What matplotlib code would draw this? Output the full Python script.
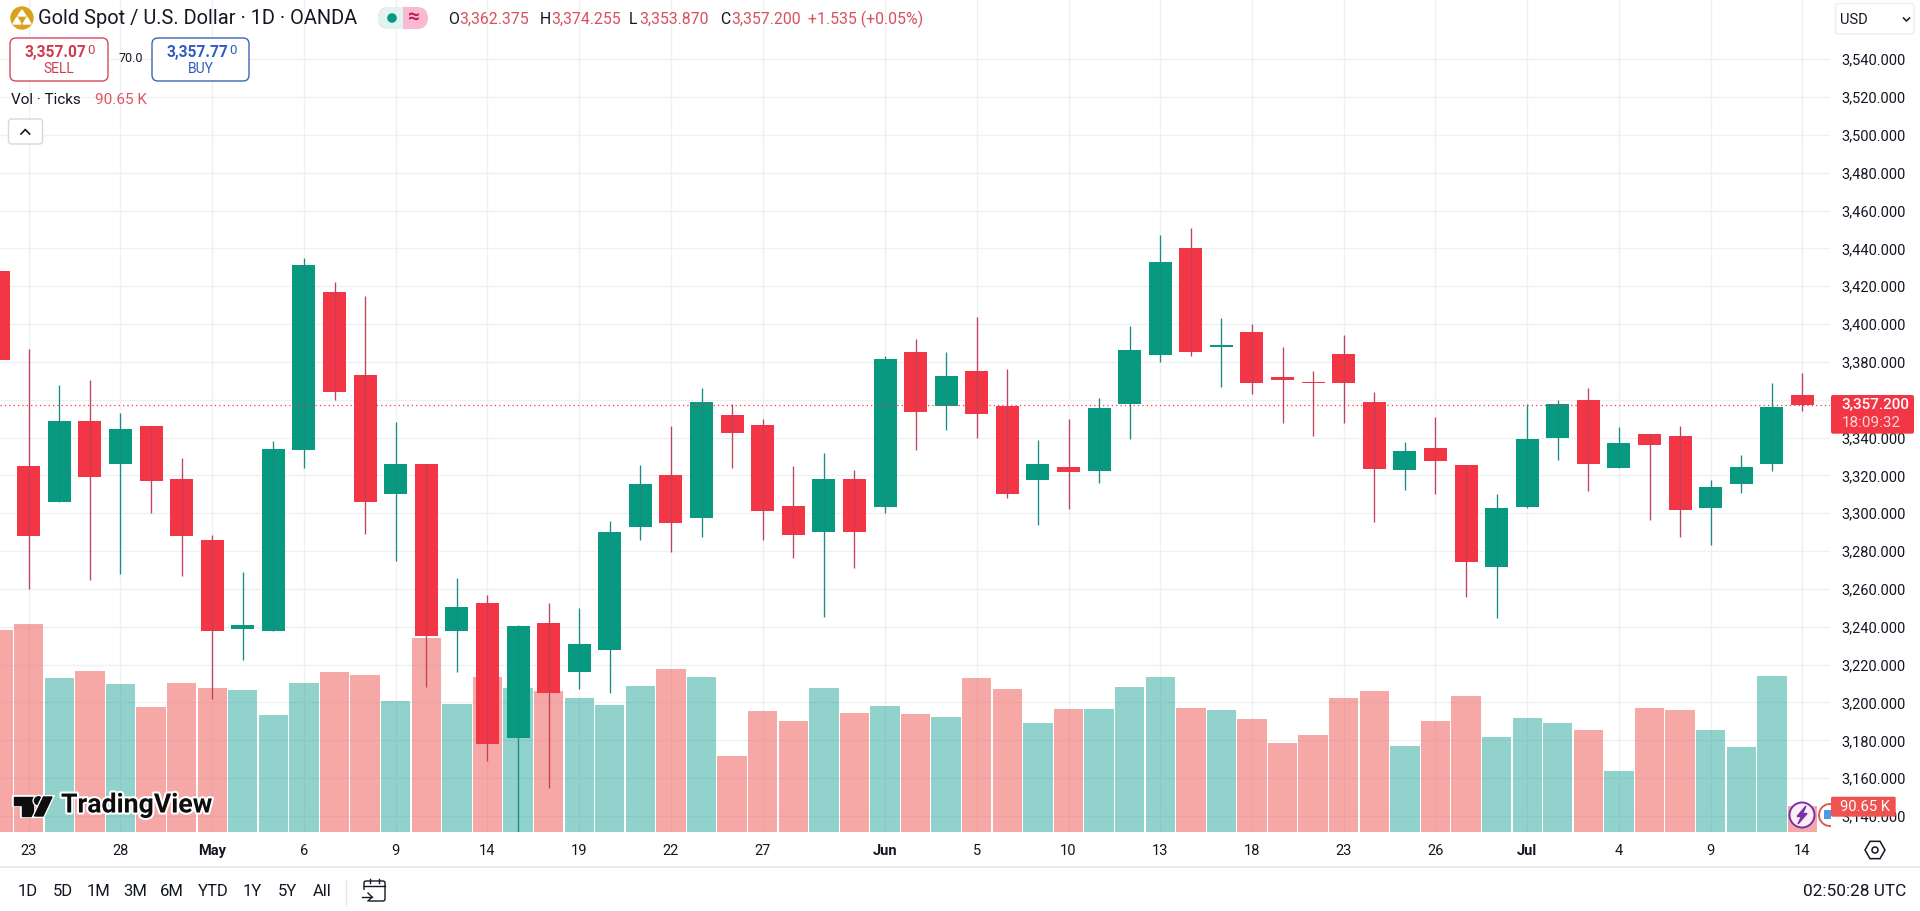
import numpy as np
import matplotlib
matplotlib.use('Agg')
import matplotlib.pyplot as plt
import matplotlib.patheffects as pe
from matplotlib.patches import Circle, FancyBboxPatch, Polygon, Rectangle, RegularPolygon

plt.rcParams['font.family'] = ['Roboto', 'DejaVu Sans']

# daily candles, first entry is the cut off bar left of Apr 23
opens = [3428, 3325, 3306, 3349, 3326, 3346, 3318, 3286, 3239, 3238, 3333.5, 3417, 3373, 3310, 3326, 3238,
         3252.5, 3181, 3242, 3216, 3228, 3293, 3320, 3297.7, 3352, 3346.5, 3304, 3290, 3318, 3303.4, 3385,
         3356.7, 3375, 3356.5, 3317.7, 3324.4, 3322.5, 3357.5, 3383.5, 3440, 3388, 3396, 3371.8, 3369.6, 3384,
         3358.6, 3323, 3334.4, 3325.4, 3271.7, 3303.4, 3339.9, 3359.8, 3324, 3341.8, 3340.7, 3302.9, 3315.6,
         3326, 3362.375]
highs = [3428, 3387, 3368, 3370.5, 3353, 3346, 3329, 3288.6, 3269, 3338, 3435, 3422, 3415, 3348, 3326, 3266,
         3257, 3241, 3252.5, 3250, 3296, 3325.5, 3346, 3366, 3357.5, 3350, 3325, 3331.7, 3323, 3383, 3392,
         3385, 3404, 3376, 3338.6, 3349.6, 3361, 3399, 3447, 3451, 3403, 3400, 3388, 3375, 3394,
         3364, 3337.6, 3350.8, 3325.4, 3310, 3358, 3360, 3366, 3345.5, 3342, 3346, 3317.5, 3330.7,
         3369, 3374.255]
lows = [3381, 3260, 3306, 3265, 3268, 3300, 3267, 3202, 3222.5, 3238, 3324, 3360, 3289, 3275, 3208, 3216,
        3169, 3120, 3155, 3207, 3205, 3286, 3279.5, 3287.6, 3324, 3286, 3276.6, 3245, 3271, 3300, 3333.5,
        3344, 3340, 3308, 3294, 3302.5, 3316, 3339, 3380, 3383, 3366.7, 3363, 3347.7, 3340.7, 3347.7,
        3295.6, 3312.4, 3310.3, 3256, 3244.8, 3303, 3328, 3312, 3324, 3296.5, 3287.6, 3283, 3310.8,
        3322.4, 3353.87]
closes = [3381, 3288, 3349, 3319, 3344.4, 3317, 3288, 3238, 3241, 3334, 3431, 3364, 3306, 3326, 3235, 3250.4,
          3178, 3240.4, 3205, 3231, 3290, 3315.4, 3295, 3358.6, 3342.5, 3301, 3288.5, 3318, 3290, 3381.8, 3353.5,
          3372.8, 3352.5, 3310, 3326, 3322, 3355.4, 3386.5, 3433, 3385, 3388.9, 3369, 3370.4, 3368.8, 3368.8,
          3323.5, 3332.8, 3327.7, 3274, 3303, 3339, 3357.6, 3326, 3337, 3336, 3301.8, 3313.8, 3324.4,
          3356, 3357.2]
# tick volume in thousands
volumes = [711, 733, 542, 567, 521, 440, 524, 507, 500, 412, 524, 563, 553, 461, 684, 450,
           546, 507, 496, 471, 447, 514, 574, 546, 267, 426, 390, 507, 419, 443, 415,
           405, 542, 504, 383, 431, 431, 510, 546, 436, 429, 397, 313, 341, 472,
           496, 302, 390, 479, 334, 401, 383, 359, 214, 436, 429, 359, 299,
           549, 90.65]

date_ticks = [0, 3, 6, 9, 12, 15, 18, 21, 24, 28, 31, 34, 37, 40, 43, 46, 49, 52, 55, 58]
date_labels = ['23', '28', 'May', '6', '9', '14', '19', '22', '27', 'Jun', '5', '10', '13', '18', '23', '26',
               'Jul', '4', '9', '14']
price_ticks = list(range(3140, 3541, 20))

RED = '#f23645'
GREEN = '#089981'
TEXT = '#131722'
x = np.arange(-1, len(opens) - 1)
opens, closes = np.array(opens), np.array(closes)
up = closes >= opens

fig = plt.figure(figsize=(19.2, 9.11), dpi=100)
pos = [0, (911 - 831.7) / 911, 1830 / 1920, 831.7 / 911]

# three layers: scales and grid, volume, candles
ax = fig.add_axes(pos, zorder=1)
ax_vol = fig.add_axes(pos, zorder=2, sharex=ax)
ax_c = fig.add_axes(pos, zorder=3, sharex=ax, sharey=ax)

ax_vol.bar(x, volumes, width=0.96, color=np.where(up, '#26a69a', '#ef5350'), alpha=0.5, linewidth=0)
ax_vol.set_ylim(0, 2933)
ax_vol.axis('off')

ax_c.vlines(x, lows, highs, colors=np.where(up, '#158d84', '#c2405a'), linewidth=0.95)
ax_c.bar(x, closes - opens, bottom=opens, width=0.752, color=np.where(up, GREEN, RED), linewidth=0)
ax_c.axhline(closes[-1], color=RED, linewidth=0.9, linestyle=(0, (1, 2.5)))
ax_c.axis('off')

ax.set_xlim(-0.9385, 58.9)
ax.set_ylim(3131.7, 3571.3)
ax.set_xticks(date_ticks)
ax.set_xticklabels(date_labels, fontsize=10.5, color=TEXT)
for lab in ax.get_xticklabels():
    if lab.get_text() in ('May', 'Jun', 'Jul'):
        lab.set_fontweight('bold')
ax.yaxis.tick_right()
ax.set_yticks(price_ticks)
ax.set_yticklabels([f'{p:,.3f}' for p in price_ticks], fontsize=10.5, color=TEXT)
ax.tick_params(axis='x', length=0, pad=9)
ax.tick_params(axis='y', length=0, pad=8)
ax.grid(True, color='#eef0f3', linewidth=1)
ax.set_axisbelow(True)
for s in ax.spines.values():
    s.set_visible(False)

# everything around the chart, in pixel coordinates
ov = fig.add_axes([0, 0, 1, 1], zorder=5)
ov.set_xlim(0, 1920)
ov.set_ylim(911, 0)
ov.axis('off')


def label(px, py, s, color=TEXT, size=10.5, ha='left', **kw):
    ov.text(px, py, s, color=color, fontsize=size, ha=ha, va='center', **kw)


# header
ov.add_patch(Circle((22, 18), 11, color='#d9a21b'))
ov.add_patch(Polygon([(22, 10), (26, 16), (18, 16)], color='white'))
ov.add_patch(Polygon([(17, 17), (21, 24), (13, 24)], color='white'))
ov.add_patch(Polygon([(27, 17), (31, 24), (23, 24)], color='white'))
label(38.5, 19, 'Gold Spot / U.S. Dollar · 1D · OANDA', size=14.4)

ov.add_patch(FancyBboxPatch((378, 7), 50, 22, boxstyle='round,pad=0,rounding_size=11', color='#f9b9d0', linewidth=0))
ov.add_patch(Rectangle((389, 7), 14, 22, color='#e2f4f0', linewidth=0))
ov.add_patch(Circle((389, 18), 11, color='#e2f4f0', linewidth=0))
ov.add_patch(Circle((392, 18), 4.8, color=GREEN, linewidth=0))
label(414, 17.5, '≈', color='#c2185b', size=15, ha='center', fontweight='bold')

HDR = '#d8505c'
label(448, 19, 'O', size=11.4)
label(459, 19, '3,362.375', color=HDR, size=11.4)
label(540, 19, 'H', size=11.4)
label(551, 19, '3,374.255', color=HDR, size=11.4)
label(629, 19, 'L', size=11.4)
label(639, 19, '3,353.870', color=HDR, size=11.4)
label(720, 19, 'C', size=11.4)
label(731, 19, '3,357.200', color=HDR, size=11.4)
label(808, 19, '+1.535 (+0.05%)', color=HDR, size=11.4)

ov.add_patch(FancyBboxPatch((10, 38), 98, 43, boxstyle='round,pad=0,rounding_size=6', facecolor='white',
                            edgecolor='#d8475a', linewidth=1))
label(24.5, 52, '3,357.07', color='#d23a4c', size=11.2, fontweight='bold')
label(87.5, 50.5, '0', color='#d23a4c', size=9.5)
label(59, 69, 'SELL', color='#d23a4c', size=10, ha='center')
label(130.5, 58.5, '70.0', size=9, ha='center')
ov.add_patch(FancyBboxPatch((152, 38), 97, 43, boxstyle='round,pad=0,rounding_size=6', facecolor='white',
                            edgecolor='#3a66b8', linewidth=1))
label(166.5, 52, '3,357.77', color='#2f5cc4', size=11.2, fontweight='bold')
label(229, 50.5, '0', color='#2f5cc4', size=9.5)
label(201, 69, 'BUY', color='#2f5cc4', size=10, ha='center')

label(11, 100.5, 'Vol · Ticks', size=11)
label(95, 100.5, '90.65 K', color='#e0565f', size=11)

ov.add_patch(FancyBboxPatch((8.5, 119), 34, 25, boxstyle='round,pad=0,rounding_size=3', facecolor='white',
                            edgecolor='#d6d8de', linewidth=1))
ov.plot([21, 25.3, 29.6], [134, 129.5, 134], color=TEXT, linewidth=1.2)

# currency button
ov.add_patch(FancyBboxPatch((1835.5, 3.5), 78.5, 30.5, boxstyle='round,pad=0,rounding_size=3', facecolor='white',
                            edgecolor='#eceef2', linewidth=1))
label(1840, 19.5, 'USD', size=10.5)
ov.plot([1903.5, 1906.5, 1909.5], [18, 21, 18], color=TEXT, linewidth=1.1)

# small round badges at the end of the volume pane, the second one cut at the pane edge
ov.add_patch(Circle((1802, 815), 12.5, facecolor='#fbeef6', edgecolor='#7b2fa8', linewidth=1.4))
ov.add_patch(Polygon([(1806, 806), (1797, 816.5), (1801.5, 816.5), (1798, 824), (1807, 813.5), (1802.5, 813.5)],
                     color='#7b2fa8'))
edge_clip = Rectangle((1800, 790), 30.5, 45, transform=ov.transData)
badge = Circle((1830, 815), 11, facecolor='white', edgecolor='#e0565f', linewidth=1.4)
ov.add_patch(badge)
badge.set_clip_path(edge_clip)
ov.add_patch(Rectangle((1824, 810), 6.5, 9, color='#4a9be8', linewidth=0))

# price and volume tags on the scale
ov.add_patch(FancyBboxPatch((1831, 395), 83, 38.7, boxstyle='round,pad=0,rounding_size=2', color=RED, linewidth=0))
label(1875, 404.5, '3,357.200', color='white', size=11, ha='center', fontweight='medium')
label(1871, 423, '18:09:32', color='#fbd5d8', size=11, ha='center')
ov.add_patch(FancyBboxPatch((1831, 796.7), 64.7, 20, boxstyle='round,pad=0,rounding_size=1.5', color='#ef5350',
                            linewidth=0))
label(1865.5, 807, '90.65 K', color='white', size=10.6, ha='center')

# settings hexagon
ov.add_patch(RegularPolygon((1875, 850), 6, radius=10, orientation=np.pi / 6, facecolor='none',
                            edgecolor=TEXT, linewidth=1.1))
ov.add_patch(Circle((1875, 850), 3, facecolor='none', edgecolor=TEXT, linewidth=1.1))

# bottom bar
ov.plot([0, 1920], [867, 867], color='#e4e6eb', linewidth=1.2)
ranges = ['1D', '5D', '1M', '3M', '6M', 'YTD', '1Y', '5Y', 'All']
range_x = [28, 62.7, 98.7, 135, 172, 213, 252, 287, 322]
for rx, r in zip(range_x, ranges):
    label(rx, 891.5, r, size=12, ha='center')
ov.plot([345.7, 345.7], [880, 905], color='#e4e6eb', linewidth=1)
ov.add_patch(FancyBboxPatch((364, 881), 21, 20, boxstyle='round,pad=0,rounding_size=2', facecolor='none',
                            edgecolor=TEXT, linewidth=1))
ov.plot([364, 385], [886, 886], color=TEXT, linewidth=1)
ov.plot([370, 370], [879, 883], color=TEXT, linewidth=1)
ov.plot([379, 379], [879, 883], color=TEXT, linewidth=1)
ov.add_patch(Rectangle((361, 890), 8, 13, color='white', linewidth=0))
ov.plot([362, 372], [897, 897], color=TEXT, linewidth=1)
ov.plot([368, 372, 368], [893, 897, 901], color=TEXT, linewidth=1)
label(1906.5, 891.5, '02:50:28 UTC', size=12.4, ha='right')

# watermark
halo = [pe.withStroke(linewidth=3, foreground='white')]
for shape in [Polygon([(14, 797), (33, 797), (33, 816), (22, 816), (22, 805), (14, 805)], color='#0d0d0d'),
              Circle((38.5, 800.8), 4, color='#0d0d0d'),
              Polygon([(43.5, 797), (52, 797), (43, 816), (34.5, 816)], color='#0d0d0d')]:
    shape.set_path_effects(halo)
    ov.add_patch(shape)
ov.text(61, 805, 'TradingView', color='#0d0d0d', fontsize=19.2, fontweight='bold', va='center',
        path_effects=halo)

fig.savefig('out.png', dpi=100)
